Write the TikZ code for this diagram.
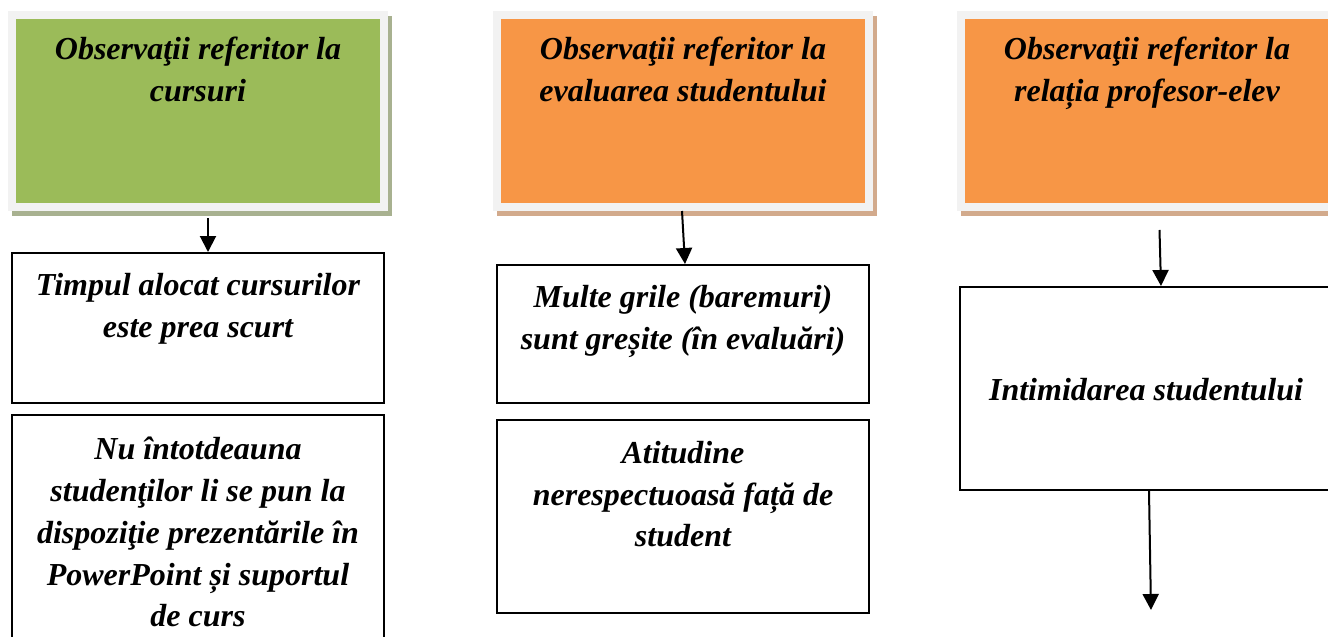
\documentclass[tikz,border=0pt]{standalone}
\usepackage{fontspec}
\setmainfont{Liberation Serif}
\usetikzlibrary{arrows.meta,shadows}

\definecolor{headgreen}{HTML}{9BBB59}
\definecolor{headorange}{HTML}{F79646}
\definecolor{framegray}{HTML}{F2F2F2}
\definecolor{greenshade}{HTML}{A8B190}
\definecolor{orangeshade}{HTML}{D2AA8C}

\begin{document}
\begin{tikzpicture}[x=0.75pt,y=-0.75pt,
  head/.style 2 args={draw=framegray,line width=6pt,fill=#1,
    minimum width=279pt,minimum height=144pt,inner sep=0pt,
    general shadow={draw=#2,fill=#2,line width=6pt,shadow xshift=3pt,shadow yshift=-3.75pt}},
  obsbox/.style={draw=black,line width=1.5pt,fill=white,minimum width=279pt,inner sep=0pt},
  txt/.style={anchor=north,align=center,inner sep=0pt,
    font=\fontsize{24}{31.3}\selectfont\bfseries\itshape},
  arr/.style={line width=1.5pt,-{Triangle[width=12pt,length=12pt]}}]
\useasboundingbox (0,0) rectangle (1328,636);
\clip (0,0) rectangle (1328,636);

% Header boxes
\node[head={headgreen}{greenshade}] (h1) at (198,111) {};
\node[head={headorange}{orangeshade}] (h2) at (683,111) {};
\node[head={headorange}{orangeshade}] (h3) at (1147,111) {};

\node[txt] (t1) at (198,37) {Observaţii referitor la\\cursuri};
\node[txt] (t2) at (683,37) {Observaţii referitor la\\evaluarea studentului};
\node[txt] (t3) at (1147,37) {Observaţii referitor la\\relația profesor-elev};

% Observation boxes
\node[obsbox,minimum height=112.5pt] (b1) at (198,328) {};
\node[obsbox,minimum height=172.5pt] (b1b) at (198,530) {};
\node[obsbox,minimum height=103.5pt] (b2) at (683,334) {};
\node[obsbox,minimum height=144.75pt] (b2b) at (683,516.5) {};
\node[obsbox,minimum width=285pt,minimum height=152.25pt] (b3) at (1150,388.5) {};

\node[txt] (s1) at (198,272.8) {Timpul alocat cursurilor\\este prea scurt};
\node[txt] (s1b) at (198,437) {Nu întotdeauna\\studenţilor li se pun la\\dispoziţie prezentările în\\PowerPoint și suportul\\de curs};
\node[txt] (s2) at (683,285.5) {Multe grile (baremuri)\\sunt greșite (în evaluări)};
\node[txt] (s2b) at (683,441) {Atitudine\\nerespectuoasă față de\\student};
\node[txt] (s3) at (1146,378) {Intimidarea studentului};

% Arrows
\coordinate (e3) at (1151,610);
\draw[arr,shorten <=5.25pt] ([xshift=7.5pt]h1.south) -- ([xshift=7.5pt]b1.north);
\draw[arr] ([xshift=-0.75pt]h2.south) -- ([xshift=1.5pt]b2.north);
\draw[arr,shorten <=14.25pt] ([xshift=9pt]h3.south) -- ([xshift=8.25pt]b3.north);
\draw[arr] ([xshift=-0.75pt]b3.south) -- (e3);
\end{tikzpicture}
\end{document}
